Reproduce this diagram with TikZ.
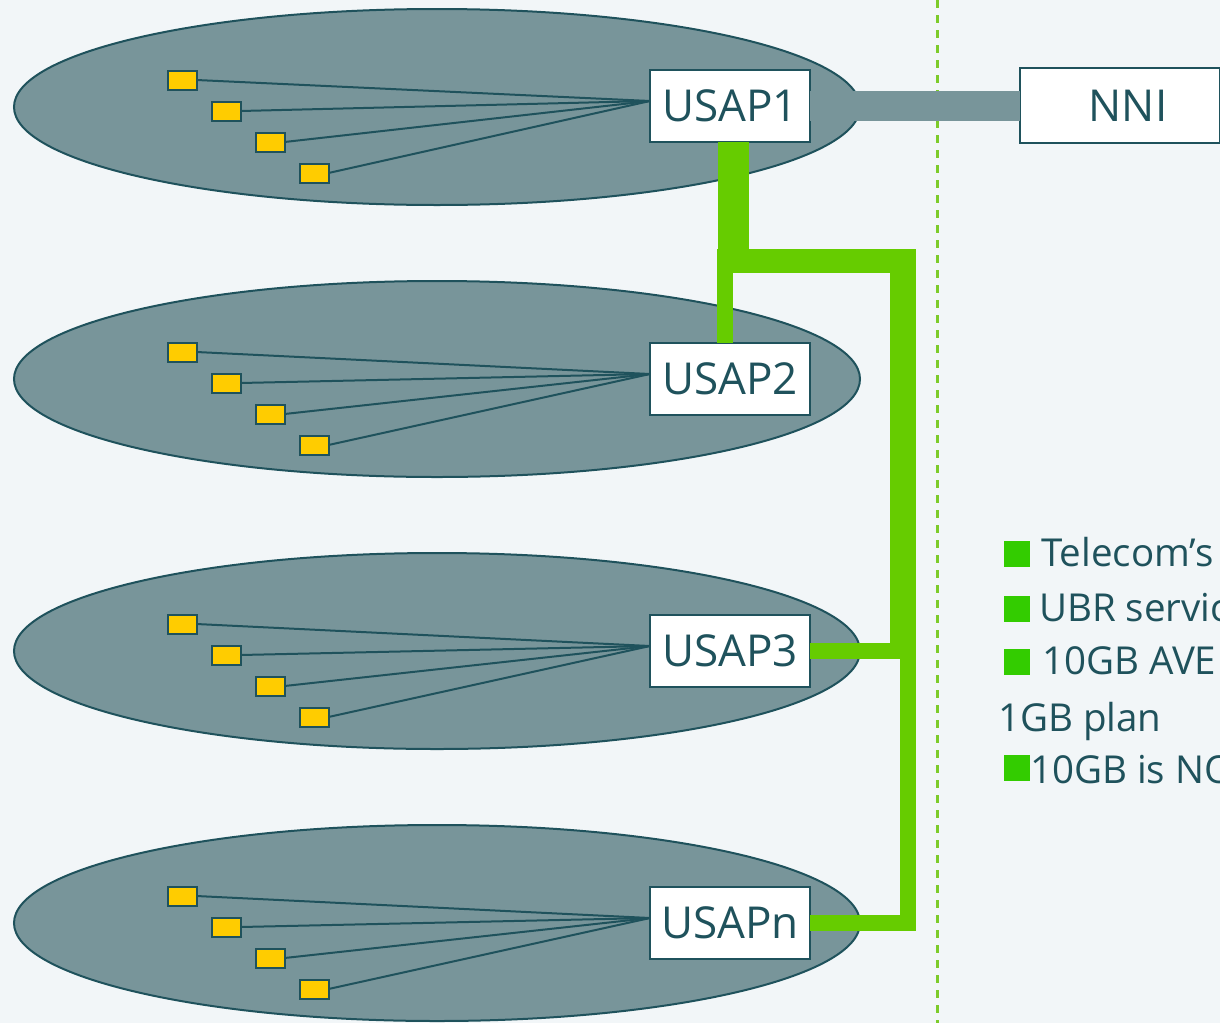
\documentclass[tikz,border=0pt]{standalone}
\usepackage{fontspec}
\setmainfont{Open Sans}
\usetikzlibrary{shapes.geometric,calc}
\definecolor{bgc}{HTML}{F2F6F8}
\definecolor{ellc}{HTML}{78959A}
\definecolor{dark}{HTML}{1F525C}
\definecolor{yel}{HTML}{FFCC00}
\definecolor{grn}{HTML}{66CC00}
\definecolor{bulg}{HTML}{33CC00}
\definecolor{dgrn}{HTML}{7DCB2A}
\begin{document}
\begin{tikzpicture}[x=1pt,y=-1pt,
  cell/.style={ellipse, draw=dark, fill=ellc, line width=2pt, minimum width=846pt, minimum height=196pt, inner sep=0pt, outer sep=0pt},
  usap/.style={rectangle, draw=dark, fill=white, line width=2.5pt, minimum width=160pt, minimum height=72pt, inner sep=0pt, outer sep=0pt, text=dark, font=\fontsize{44}{50}\selectfont},
  term/.style={rectangle, draw=dark, fill=yel, line width=2pt, minimum width=29pt, minimum height=19pt, inner sep=0pt, outer sep=0pt},
  spoke/.style={draw=dark, line width=2pt},
  link/.style={draw=grn},
  bul/.style={rectangle, fill=bulg, minimum width=26pt, minimum height=26pt, inner sep=0pt},
  lg/.style={anchor=base west, inner sep=0pt, text=dark, font=\fontsize{38.5}{42}\selectfont}
]
\useasboundingbox (0,0) rectangle (1220,1023);
\fill[bgc] (0,0) rectangle (1220,1023);
\clip (0,0) rectangle (1220,1023);

% dashed boundary
\coordinate (dtop) at (937,0);
\coordinate (dbot) at (937,1023);
\draw[dgrn, line width=3pt, dash pattern=on 8pt off 7pt] (dtop) -- (dbot);

% ellipses
\node[cell] (e1) at (437,107) {};
\node[cell] (e2) at (437,379) {};
\node[cell] (e3) at (437,651) {};
\node[cell] (e4) at (437,923) {};

% NNI
\node[usap, minimum width=200pt, minimum height=75pt, anchor=west] (nni) at (1020,105.5) {\hspace*{-4pt}NNI\hspace*{-20pt}};

% USAP boxes
\node[usap] (u1) at (730,106) {USAP1};
\node[usap] (u2) at (730,379) {USAP2};
\node[usap] (u3) at (730,651) {USAP3};
\node[usap] (un) at (730,923) {USAPn};

% grey trunk to NNI
\draw[ellc, line width=30pt] (u1.east) -- (u1.east -| nni.west);

% terminals and spokes
\foreach \u/\dy in {1/0,2/272,3/544,n/816}{
  \node[term] (a\u) at (182,80+\dy) {};
  \node[term] (b\u) at (226,111+\dy) {};
  \node[term] (c\u) at (270,142+\dy) {};
  \node[term] (d\u) at (314,173+\dy) {};
  \coordinate (h\u) at ($(u\u.west)+(0,-5)$);
  \draw[spoke] (a\u.east) -- (h\u);
  \draw[spoke] (b\u.east) -- (h\u);
  \draw[spoke] (c\u.east) -- (h\u);
  \draw[spoke] (d\u.east) -- (h\u);
}

% green interconnect
\coordinate (t1) at (733,249);
\coordinate (hl) at (717,261);
\coordinate (hr) at (916,261);
\coordinate (v2) at (725,273);
\coordinate (r1) at (903,249);
\coordinate (r2) at (903,651);
\coordinate (r3) at (908,643);
\coordinate (r4) at (908,931);
\draw[link, line width=31pt] (t1 |- u1.south) -- (t1);
\draw[link, line width=24pt] (hl) -- (hr);
\draw[link, line width=16pt] (v2) -- (v2 |- u2.north);
\draw[link, line width=26pt] (r1) -- (r2);
\draw[link, line width=16pt] (r3) -- (r4);
\draw[link, line width=16pt] (u3.east) -- (u3.east -| hr);
\draw[link, line width=16pt] (un.east) -- (un.east -| hr);

% legend
\node[bul] (q1) at (1017,554) {};
\node[lg] (l1) at (1041,566) {Telecom’s};
\node[bul] (q2) at (1017,609) {};
\node[lg] (l2) at (1039,621) {UBR servic};
\node[bul] (q3) at (1017,662) {};
\node[lg] (l3) at (1042,674) {10GB AVE};
\node[lg] (l4) at (998,731) {1GB plan};
\node[bul] (q5) at (1017,768) {};
\node[lg] (l5) at (1030,783) {10GB is NO};
\end{tikzpicture}
\end{document}
